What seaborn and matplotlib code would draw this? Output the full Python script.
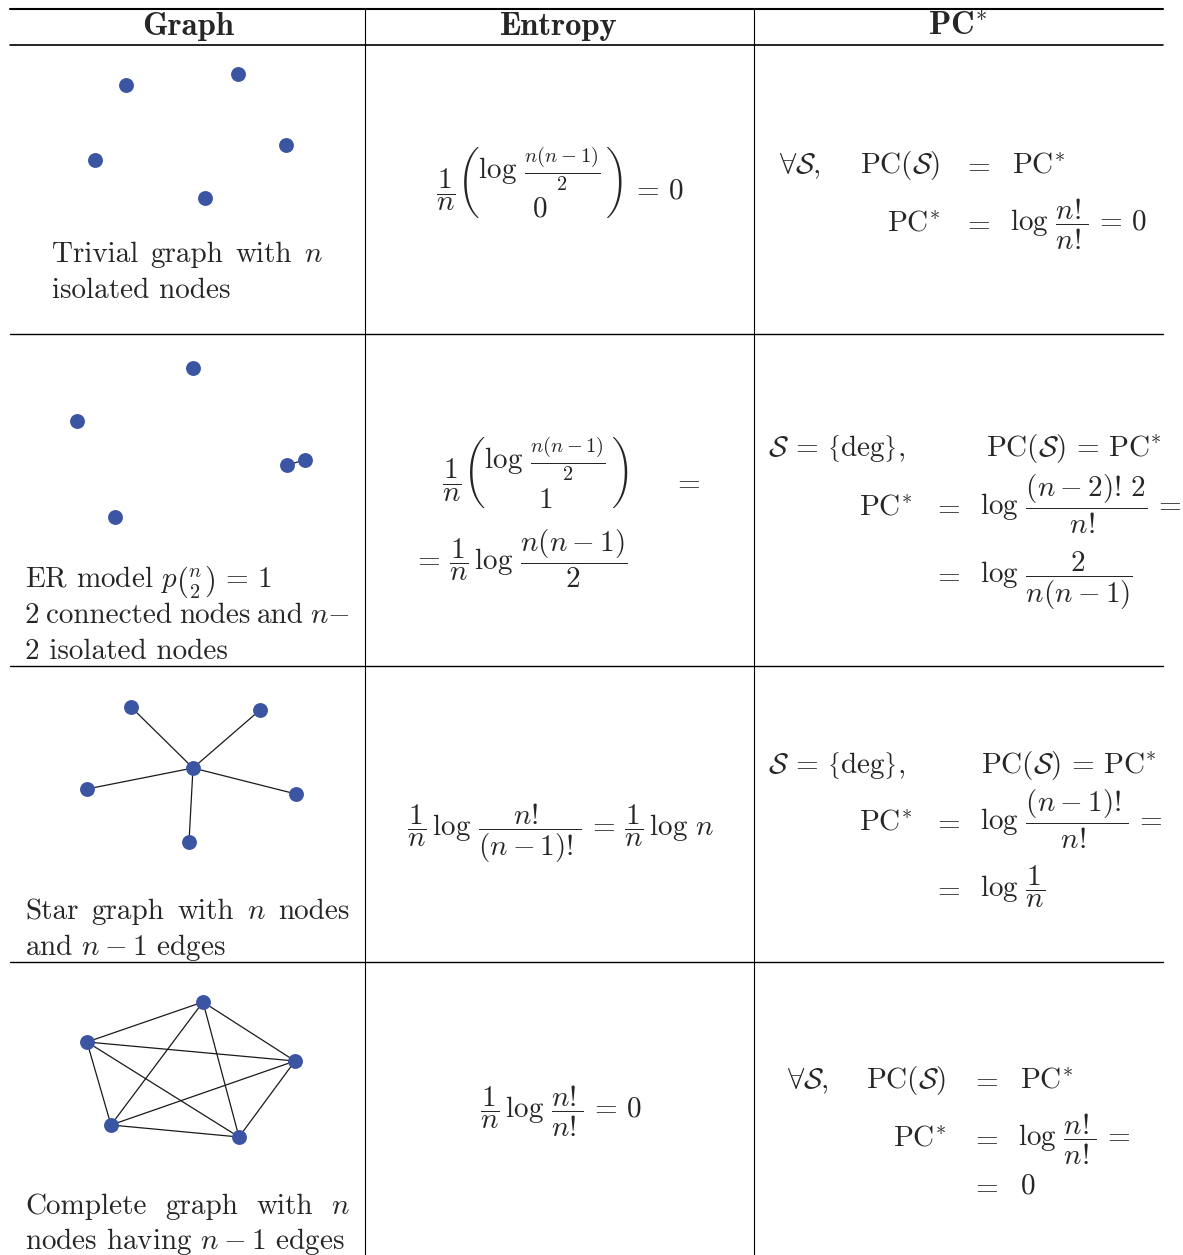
import numpy as np
import pandas as pd
import matplotlib
matplotlib.use('Agg')
import matplotlib.pyplot as plt
import seaborn as sns

# node positions of the four small graphs (pixel units of the table)
trivial_x = [126, 238, 95, 286, 205]
trivial_y = [85, 74, 160, 145, 198]
trivial_edges = []

er_x = [193, 77, 287, 305, 115]
er_y = [368, 421, 465, 460, 517]
er_edges = [(2, 3)]

star_x = [193, 131, 260, 87, 296, 189]
star_y = [768, 707, 710, 789, 794, 842]
star_edges = [(0, 1), (0, 2), (0, 3), (0, 4), (0, 5)]

complete_x = [203, 87, 295, 111, 239]
complete_y = [1002, 1042, 1061, 1125, 1137]
complete_edges = [(i, j) for i in range(5) for j in range(i + 1, 5)]

headers = ['Graph', 'Entropy', r'$\mathbf{PC}^{*}$']
header_x = [188, 559, 958]
row_lines = [334, 666, 962]
col_lines = [365, 754]

node_color = '#3b55a3'
fs = 21

sns.set_theme(style='white')
plt.rcParams['font.family'] = ['cmr10']
plt.rcParams['mathtext.fontset'] = 'cm'
plt.rcParams['axes.formatter.use_mathtext'] = True

fig = plt.figure(figsize=(11.83, 12.55), dpi=100)
ax = fig.add_axes([0, 0, 1, 1])

# table rules
ax.plot([10, 1163], [9, 9], color='black', lw=1.5)
ax.plot([10, 1163], [45, 45], color='black', lw=1.2)
for y in row_lines:
    ax.plot([10, 1163], [y, y], color='black', lw=1.0)
for x in col_lines:
    ax.plot([x, x], [9, 1255], color='black', lw=0.8)

for h, x in zip(headers, header_x):
    ax.text(x, 35, h, fontsize=23.5, ha='center', va='baseline',
            family='cmb10', fontweight='bold')

# graphs
graphs = [(trivial_x, trivial_y, trivial_edges),
          (er_x, er_y, er_edges),
          (star_x, star_y, star_edges),
          (complete_x, complete_y, complete_edges)]
for gx, gy, edges in graphs:
    for i, j in edges:
        ax.plot([gx[i], gx[j]], [gy[i], gy[j]], color='#1a1a1a', lw=0.9, zorder=1)
    df = pd.DataFrame({'x': gx, 'y': gy})
    sns.scatterplot(data=df, x='x', y='y', ax=ax, color=node_color, s=115,
                    edgecolor=node_color, linewidth=0, zorder=2, legend=False)
ax.set_xlim(0, 1183)
ax.set_ylim(1255, 0)
ax.axis('off')

fig.canvas.draw()
renderer = fig.canvas.get_renderer()


def justify(words, left, right, y):
    items = [ax.text(0, y, w, fontsize=fs, va='baseline', ha='left') for w in words]
    widths = [t.get_window_extent(renderer).width for t in items]
    gap = (right - left - sum(widths)) / (len(words) - 1)
    x = left
    for t, w in zip(items, widths):
        t.set_x(x)
        x += w + gap


def txt(x, y, s, ha='left'):
    ax.text(x, y, s, fontsize=fs, ha=ha, va='baseline')


EQ = r'\,=\,'
DEG = r'\left\{\mathrm{deg}\right\}'

# graph descriptions
justify(['Trivial', 'graph', 'with', '$n$'], 52, 323, 262)
txt(52, 298, 'isolated nodes')
txt(25, 587, r'ER model $p\binom{n}{2}' + EQ + '1$')
justify(['2', 'connected', 'nodes', 'and', '$n{-}$'], 25, 350, 623)
txt(25, 659, '2 isolated nodes')
justify(['Star', 'graph', 'with', '$n$', 'nodes'], 25, 350, 919)
txt(25, 955, 'and $n-1$ edges')
justify(['Complete', 'graph', 'with', '$n$'], 25, 350, 1214)
txt(25, 1249, 'nodes having $n-1$ edges')

# entropy column
txt(560, 200, r'$\dfrac{1}{n}\genfrac{(}{)}{0}{0}{\log\,\frac{n(n-1)}{2}}{0}' + EQ + '0$', ha='center')
txt(535, 490, r'$\dfrac{1}{n}\genfrac{(}{)}{0}{0}{\log\,\frac{n(n-1)}{2}}{1}$', ha='center')
txt(686, 490, '$=$', ha='center')
txt(412, 570, r'$=\,\dfrac{1}{n}\,\log\,\dfrac{n(n-1)}{2}$')
txt(561, 836, r'$\dfrac{1}{n}\,\log\,\dfrac{n!}{(n-1)!}' + EQ + r'\dfrac{1}{n}\,\log\,n$', ha='center')
txt(561, 1118, r'$\dfrac{1}{n}\,\log\,\dfrac{n!}{n!}' + EQ + '0$', ha='center')

# PC* column
txt(779, 173, r'$\forall\mathcal{S},$')
txt(940, 173, r'$\mathrm{PC}(\mathcal{S})$', ha='right')
txt(976, 173, '$=$', ha='center')
txt(1012, 173, r'$\mathrm{PC}^{*}$')
txt(940, 231, r'$\mathrm{PC}^{*}$', ha='right')
txt(976, 231, '$=$', ha='center')
txt(1010, 231, r'$\log\,\dfrac{n!}{n!}' + EQ + '0$')

txt(768, 456, r'$\mathcal{S}' + EQ + DEG + ',$')
txt(986, 456, r'$\mathrm{PC}(\mathcal{S})' + EQ + r'\mathrm{PC}^{*}$')
txt(912, 515, r'$\mathrm{PC}^{*}$', ha='right')
txt(946, 515, '$=$', ha='center')
txt(980, 515, r'$\log\,\dfrac{(n-2)!\,2}{n!}\,=$')
txt(946, 583, '$=$', ha='center')
txt(980, 583, r'$\log\,\dfrac{2}{n(n-1)}$')

txt(768, 773, r'$\mathcal{S}' + EQ + DEG + ',$')
txt(981, 773, r'$\mathrm{PC}(\mathcal{S})' + EQ + r'\mathrm{PC}^{*}$')
txt(912, 830, r'$\mathrm{PC}^{*}$', ha='right')
txt(946, 830, '$=$', ha='center')
txt(980, 830, r'$\log\,\dfrac{(n-1)!}{n!}\,=$')
txt(946, 897, '$=$', ha='center')
txt(980, 897, r'$\log\,\dfrac{1}{n}$')

txt(787, 1088, r'$\forall\mathcal{S},$')
txt(946, 1088, r'$\mathrm{PC}(\mathcal{S})$', ha='right')
txt(984, 1088, '$=$', ha='center')
txt(1020, 1088, r'$\mathrm{PC}^{*}$')
txt(946, 1146, r'$\mathrm{PC}^{*}$', ha='right')
txt(984, 1146, '$=$', ha='center')
txt(1018, 1146, r'$\log\,\dfrac{n!}{n!}\,=$')
txt(984, 1194, '$=$', ha='center')
txt(1020, 1194, '$0$')

fig.savefig('out.png', dpi=100, facecolor='white')
